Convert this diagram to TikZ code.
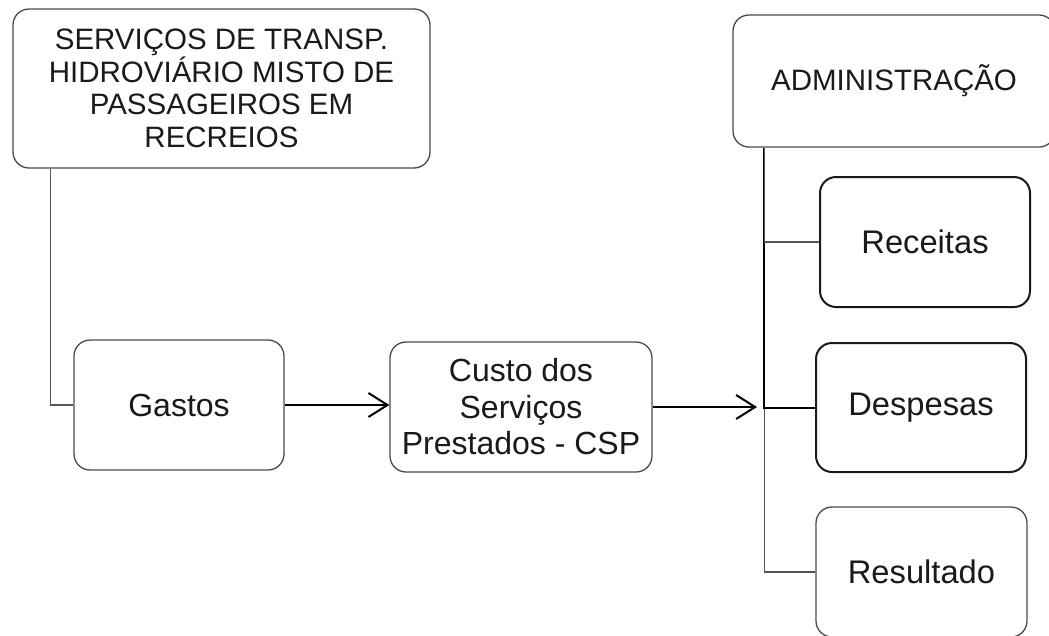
\documentclass[tikz,border=0pt]{standalone}
\usepackage{fontspec}
\setmainfont{Liberation Sans}
\usetikzlibrary{arrows.meta}
\definecolor{boxline}{HTML}{4A4A4A}
\definecolor{wire}{HTML}{555555}
\definecolor{ink}{HTML}{1A1A1A}
\tikzset{
  box/.style={draw=boxline, line width=1.3pt, rounded corners=16pt, fill=white,
    align=center, text=ink, inner sep=0pt,
    font=\fontsize{32}{36.5}\selectfont},
  smallfont/.style={font=\fontsize{29.5}{32.5}\selectfont},
  bigfont/.style={font=\fontsize{32.7}{37}\selectfont},
  boldbox/.style={box, draw=ink, line width=2pt},
  wirethin/.style={draw=wire, line width=1.4pt},
  wirebold/.style={draw=black, line width=2pt},
  flow/.style={draw=black, line width=2pt, -{Straight Barb[length=19pt,width=24pt,line width=2pt]}}
}
\begin{document}
\begin{tikzpicture}[x=1pt,y=-1pt]
\useasboundingbox (0,0) rectangle (1049,635);
\clip (0,0) rectangle (1049,635);

% left branch
\node[box, smallfont, minimum width=417pt, minimum height=159pt] (servicos) at (221.5,88.5)
  {SERVIÇOS DE TRANSP.\\HIDROVIÁRIO MISTO DE\\PASSAGEIROS EM\\RECREIOS};
\node[box, minimum width=210pt, minimum height=130pt] (gastos) at (179,405) {Gastos};
\node[box, minimum width=262pt, minimum height=130pt] (csp) at (521,407)
  {Custo dos\\Serviços\\Prestados - CSP};

% right branch
\node[box, smallfont, minimum width=322pt, minimum height=132pt] (admin) at (894,81) {ADMINISTRAÇÃO};
\node[boldbox, bigfont, minimum width=210pt, minimum height=130pt] (receitas) at (925,242) {Receitas};
\node[boldbox, bigfont, minimum width=210pt, minimum height=129pt] (despesas) at (921,407.5) {Despesas};
\node[box, bigfont, minimum width=211pt, minimum height=130pt] (resultado) at (921.5,572) {Resultado};
\coordinate (tip) at (757,407);

% connectors
\draw[wirethin] ([xshift=38pt]servicos.south west) |- (gastos.west);
\draw[flow] (gastos.east) -- (gastos.east -| csp.west);
\draw[flow] (csp.east |- tip) -- (tip);
\draw[wirethin] ([xshift=32pt]admin.south west) |- (resultado.west);
\draw[wirebold] ([xshift=32pt]admin.south west) |- (despesas.west);
\draw[wirethin] ([xshift=32pt]admin.south west) |- (receitas.west);
\end{tikzpicture}
\end{document}
